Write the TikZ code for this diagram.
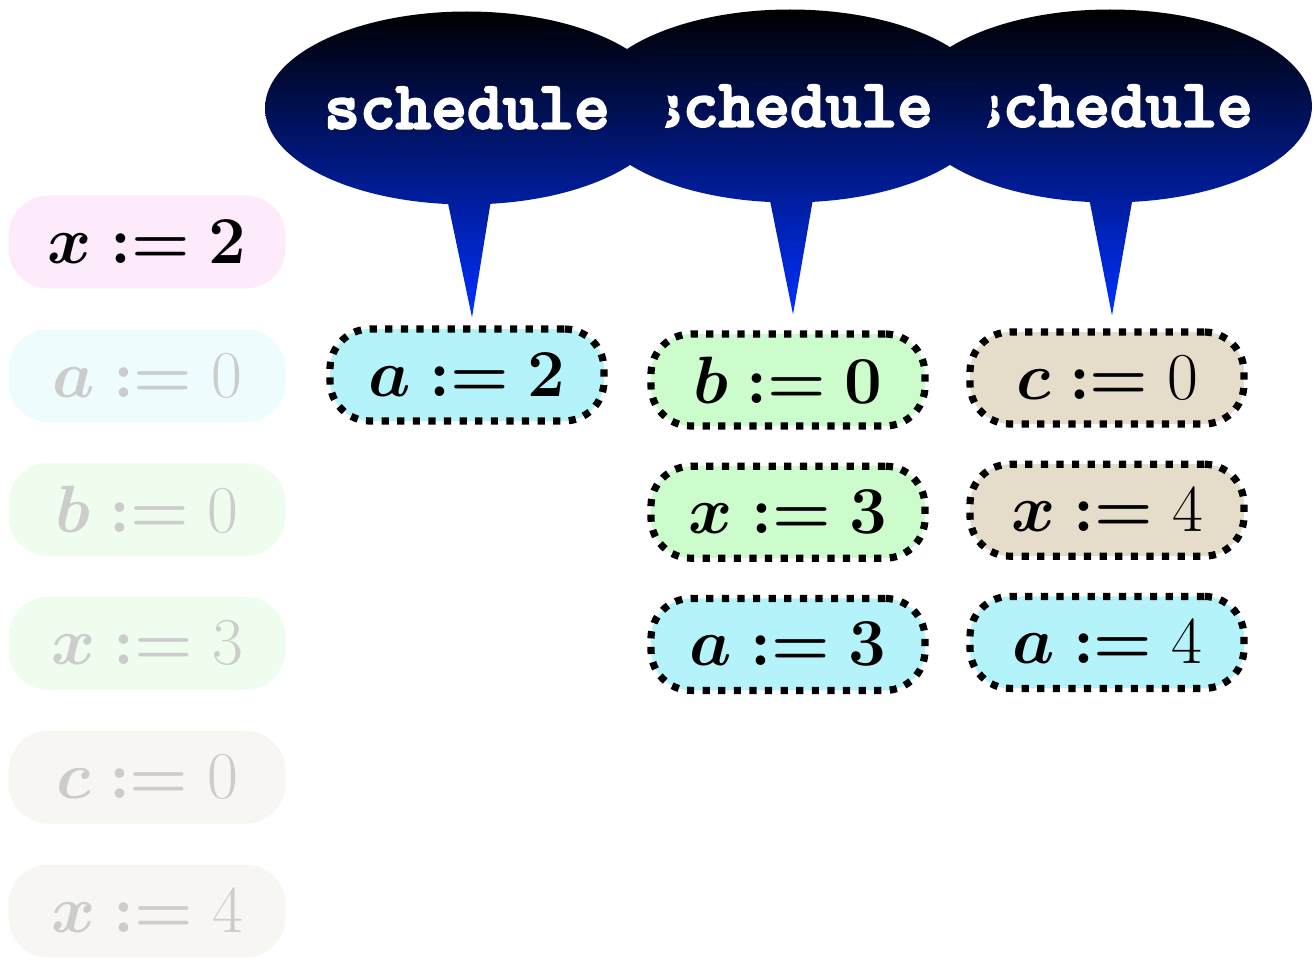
\RequirePackage{fix-cm}
\documentclass[tikz,border=0pt]{standalone}
\usepackage{amsmath,bm}
\usepackage[no-math]{fontspec}
\usepackage{xcolor}
\usetikzlibrary{positioning,shapes.callouts}
\newfontfamily\schedfont{lmmonolt10-bold.otf}[FakeBold=3]
\definecolor{FadePink}{HTML}{FDEBFB}
\definecolor{FadeCyan}{HTML}{EFFCFD}
\definecolor{FadeGreen}{HTML}{EFFDEF}
\definecolor{FadeTan}{HTML}{F7F6F2}
\definecolor{FadeGray}{HTML}{CCCCCC}
\definecolor{RunCyan}{HTML}{B5F3FB}
\definecolor{RunGreen}{HTML}{CCFCCC}
\definecolor{RunTan}{HTML}{E5DCCA}
\definecolor{SchedBlue}{HTML}{0030FF}

\begin{document}
\begin{tikzpicture}[x=0.5pt,y=-0.5pt,node distance=16.5pt,
 stmt/.style={rounded corners=20pt,minimum width=137pt,minimum height=46pt,
              inner sep=0pt,font=\fontsize{33.5}{40}\selectfont},
 done/.style={stmt,minimum width=138.5pt,minimum height=46.5pt},
 ghost/.style={done,text=FadeGray},
 queued/.style={stmt,draw=black,line width=3.6pt,dash pattern=on 3.6pt off 4.2pt},
 sched/.style={ellipse callout,minimum width=200pt,minimum height=96.5pt,inner sep=0pt,
               callout pointer arc=12,top color=black,bottom color=SchedBlue,text=white,
               font=\fontsize{34}{40}\schedfont}]
\useasboundingbox (0,0) rectangle (1313,963);
% statements already run
\node[done,fill=FadePink] (x2) at (147,242) {$\bm{x :=} \mathbf{2}$};
\node[ghost,fill=FadeCyan,below=20pt of x2] (ga0) {$\bm{a :=} 0$};
\node[ghost,fill=FadeGreen,below=20pt of ga0] (gb0) {$\bm{b :=} 0$};
\node[ghost,fill=FadeGreen,below=20pt of gb0] (gx3) {$\bm{x :=} 3$};
\node[ghost,fill=FadeTan,below=20pt of gx3] (gc0) {$\bm{c :=} 0$};
\node[ghost,fill=FadeTan,below=20pt of gc0] (gx4) {$\bm{x :=} 4$};
% waiting threads
\node[queued,fill=RunCyan] (a2) at (467,375) {$\bm{a :=} \mathbf{2}$};
\node[queued,fill=RunGreen] (b0) at (788,380) {$\bm{b :=} \mathbf{0}$};
\node[queued,fill=RunGreen,below=of b0] (x3) {$\bm{x :=} \mathbf{3}$};
\node[queued,fill=RunCyan,below=of x3] (a3) {$\bm{a :=} \mathbf{3}$};
\node[queued,fill=RunTan] (c0) at (1107,378) {$\bm{c :=} 0$};
\node[queued,fill=RunTan,below=of c0] (x4) {$\bm{x :=} 4$};
\node[queued,fill=RunCyan,below=of x4] (a4) {$\bm{a :=} 4$};
% scheduler callouts, right one first
\node[sched,callout absolute pointer={([shift={(5,-13)}]c0.north)}] (s3) at (1110,106) {schedule};
\node[sched,callout absolute pointer={([shift={(5,-16)}]b0.north)}] (s2) at (790,106) {schedule};
\node[sched,callout absolute pointer={([shift={(5,-8)}]a2.north)}] (s1) at (467,108) {schedule};
\end{tikzpicture}
\end{document}
